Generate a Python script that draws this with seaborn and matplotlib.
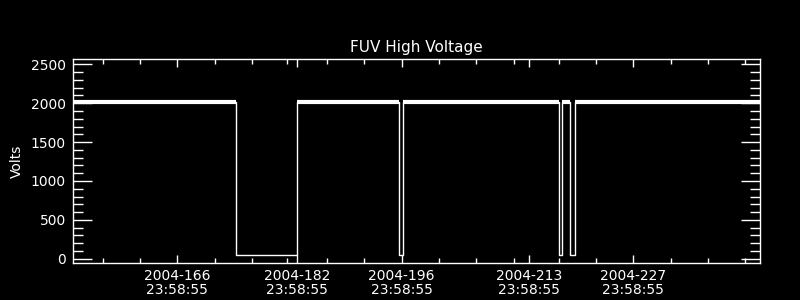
import numpy as np
import pandas as pd
import matplotlib
matplotlib.use("Agg")
import matplotlib.pyplot as plt
import seaborn as sns

# ---- data (day of year 2004, volts) ----
trace_day = [152.05, 173.9, 173.9, 182.05, 182.05, 195.6, 195.6, 196.2, 196.2,
             217.0, 217.0, 217.5, 217.5, 218.5, 218.5, 219.2, 219.2, 243.95]
trace_volts = [2020, 2020, 50, 50, 2020, 2020, 45, 45, 2020,
               2020, 45, 45, 2020, 2020, 45, 45, 2020, 2020]

major_days = [166, 182, 196, 213, 227]
major_labels = ["2004-166\n23:58:55", "2004-182\n23:58:55", "2004-196\n23:58:55",
                "2004-213\n23:58:55", "2004-227\n23:58:55"]
minor_days = [156, 161, 171, 176, 180.7, 186, 191, 201, 206, 211, 217, 222, 232, 237, 242]
y_major = [0, 500, 1000, 1500, 2000, 2500]
title = "FUV High Voltage"
ylabel = "Volts"

# ---- frames ----
df = pd.DataFrame({"day": trace_day, "volts": trace_volts})
high = df[df["volts"] > 1000].copy()
high["seg"] = (df["volts"] < 1000).cumsum()[high.index]

sns.set_style("dark")
plt.rcParams.update({
    "figure.facecolor": "black", "axes.facecolor": "black",
    "axes.edgecolor": "white", "text.color": "white",
    "axes.labelcolor": "white", "xtick.color": "white", "ytick.color": "white",
    "axes.grid": False,
})
plt.rcParams["font.family"] = ["DejaVu Sans"]

fig = plt.figure(figsize=(8, 3), dpi=100)
ax = fig.add_axes([73 / 800, 1 - 263 / 300, (760 - 73) / 800, (263 - 59) / 300])
ax.set_facecolor("black")

sns.lineplot(data=df, x="day", y="volts", sort=False, estimator=None,
             color="white", lw=1.0, ax=ax, legend=False, solid_capstyle="butt")
sns.lineplot(data=high, x="day", y="volts", units="seg", sort=False, estimator=None,
             color="white", lw=3.0, ax=ax, legend=False, solid_capstyle="butt")

ax.set_xlim(152.05, 243.95)
ax.set_ylim(-55, 2568)

ax.set_xticks(major_days)
ax.set_xticklabels(major_labels, fontsize=10, linespacing=1.05)
ax.set_xticks(minor_days, minor=True)
ax.set_yticks(y_major)
ax.set_yticklabels([str(v) for v in y_major], fontsize=10)
ax.set_yticks(np.arange(0, 2600, 100), minor=True)

ax.tick_params(axis="x", which="major", direction="in", length=6, width=1,
               top=True, bottom=True, pad=4, colors="white")
ax.tick_params(axis="x", which="minor", direction="in", length=3.5, width=1,
               top=True, bottom=True)
ax.tick_params(axis="y", which="major", direction="in", length=14, width=1,
               left=True, right=True, pad=5, colors="white")
ax.tick_params(axis="y", which="minor", direction="in", length=7, width=1,
               left=True, right=True)

for s in ax.spines.values():
    s.set_color("white")
    s.set_linewidth(1)
    s.set_visible(True)

ax.set_xlabel("")
ax.set_ylabel(ylabel, fontsize=10)
ax.yaxis.set_label_coords((24 - 73) / 687, 0.5)
ax.set_title(title, fontsize=11, pad=5, color="white")

fig.savefig("out.png", dpi=100, facecolor="black")
